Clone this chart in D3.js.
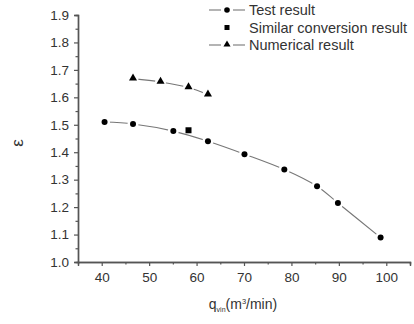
<!DOCTYPE html>
<html>
<head>
<meta charset="utf-8">
<script src="https://cdn.jsdelivr.net/npm/d3@7"></script>
<style>
  body { margin: 0; background: #fff; }
  text { font-family: "Liberation Sans", Arial, sans-serif; fill: #333; }
</style>
</head>
<body>
<svg id="chart" width="414" height="324"></svg>
<script>
// test result (circles)
const testQ = [40.6, 46.6, 55.1, 62.4, 70.1, 78.5, 85.4, 89.8, 98.8];
const testE = [1.51, 1.503, 1.477, 1.44, 1.393, 1.337, 1.276, 1.215, 1.089];
// similar conversion result (square)
const simQ = [58.3];
const simE = [1.48];
// numerical result (triangles)
const numQ = [46.6, 52.4, 58.3, 62.4];
const numE = [1.668, 1.656, 1.636, 1.61];

const xTicks = [40, 50, 60, 70, 80, 90, 100];
const yTicks = [1.0, 1.1, 1.2, 1.3, 1.4, 1.5, 1.6, 1.7, 1.8, 1.9];
const legendLabels = ['Test result', 'Similar conversion result', 'Numerical result'];

const svg = d3.select('#chart');
const m = { left: 78, right: 410, top: 15, bottom: 262 };

const x = d3.scaleLinear().domain([35, 105]).range([m.left, m.right]);
const y = d3.scaleLinear().domain([1.0, 1.9]).range([m.bottom, m.top]);

const axisColor = '#555';

// x axis
const xAxis = svg.append('g').attr('transform', `translate(0,${m.bottom})`);
xAxis.call(d3.axisBottom(x).tickValues(xTicks).tickSize(4).tickPadding(6).tickFormat(d3.format('d')));
xAxis.append('g').call(d3.axisBottom(x).tickValues(d3.range(45, 106, 10)).tickSize(2.5).tickFormat(''));
xAxis.selectAll('path').attr('stroke', axisColor).attr('stroke-width', 1.4);
xAxis.selectAll('line').attr('stroke', axisColor).attr('stroke-width', 1.2);
xAxis.selectAll('text').style('font-size', '13.5px').attr('fill', '#333');

// y axis
const yAxis = svg.append('g').attr('transform', `translate(${m.left},0)`);
yAxis.call(d3.axisLeft(y).tickValues(yTicks).tickSize(4).tickPadding(5).tickFormat(d3.format('.1f')));
yAxis.append('g').call(d3.axisLeft(y).tickValues(d3.range(1.05, 1.9, 0.1)).tickSize(2.5).tickFormat(''));
yAxis.selectAll('path').attr('stroke', axisColor).attr('stroke-width', 1.4);
yAxis.selectAll('line').attr('stroke', axisColor).attr('stroke-width', 1.2);
yAxis.selectAll('text').style('font-size', '13.5px').attr('fill', '#333');

// axis titles
svg.append('text')
  .attr('transform', 'translate(17,143) rotate(-90)')
  .attr('text-anchor', 'middle').attr('dominant-baseline', 'central')
  .style('font-size', '17px').text('ε');

const xl = svg.append('text').attr('x', 243).attr('y', 309)
  .attr('text-anchor', 'middle').style('font-size', '14px');
xl.append('tspan').text('q');
xl.append('tspan').attr('dy', 3).style('font-size', '7px').text('vin');
xl.append('tspan').attr('dy', -3).text('(m');
xl.append('tspan').attr('dy', -5).style('font-size', '7.5px').text('3');
xl.append('tspan').attr('dy', 5).text('/min)');

// lines
const line = d3.line().x(d => x(d[0])).y(d => y(d[1])).curve(d3.curveCatmullRom);
const testPts = testQ.map((q, i) => [q, testE[i]]);
const numPts = numQ.map((q, i) => [q, numE[i]]);

[testPts, numPts].forEach(pts => {
  svg.append('path').datum(pts).attr('d', line)
    .attr('fill', 'none').attr('stroke', '#777').attr('stroke-width', 1.1);
});

// white gaps around markers
function gaps(pts) {
  svg.append('g').selectAll('circle').data(pts).join('circle')
    .attr('cx', d => x(d[0])).attr('cy', d => y(d[1])).attr('r', 5.5).attr('fill', '#fff');
}
gaps(testPts); gaps(numPts);

const tri = d3.symbol().type(d3.symbolTriangle).size(28);

svg.append('g').selectAll('circle').data(testPts).join('circle')
  .attr('cx', d => x(d[0])).attr('cy', d => y(d[1])).attr('r', 3).attr('fill', '#000');

svg.append('g').selectAll('rect').data(simQ).join('rect')
  .attr('x', (d, i) => x(d) - 3).attr('y', (d, i) => y(simE[i]) - 3)
  .attr('width', 6).attr('height', 6).attr('fill', '#000');

svg.append('g').selectAll('path').data(numPts).join('path')
  .attr('d', tri).attr('transform', d => `translate(${x(d[0])},${y(d[1]) - 0.5})`).attr('fill', '#000');

// legend
const legendY = [10, 27.5, 45];
const lg = svg.append('g');
legendLabels.forEach((label, i) => {
  const ly = legendY[i];
  if (i !== 1) {
    lg.append('line').attr('x1', 209).attr('x2', 221).attr('y1', ly).attr('y2', ly)
      .attr('stroke', '#777').attr('stroke-width', 1.1);
    lg.append('line').attr('x1', 233).attr('x2', 245).attr('y1', ly).attr('y2', ly)
      .attr('stroke', '#777').attr('stroke-width', 1.1);
  }
  if (i === 0) lg.append('circle').attr('cx', 227).attr('cy', ly).attr('r', 2.8).attr('fill', '#000');
  if (i === 1) lg.append('rect').attr('x', 224.5).attr('y', ly - 2.5).attr('width', 5).attr('height', 5).attr('fill', '#000');
  if (i === 2) lg.append('path').attr('d', d3.symbol().type(d3.symbolTriangle).size(22))
    .attr('transform', `translate(227,${ly - 0.5})`).attr('fill', '#000');
  lg.append('text').attr('x', 249).attr('y', ly).attr('dominant-baseline', 'central')
    .style('font-size', '14.5px').text(label);
});
</script>
</body>
</html>
